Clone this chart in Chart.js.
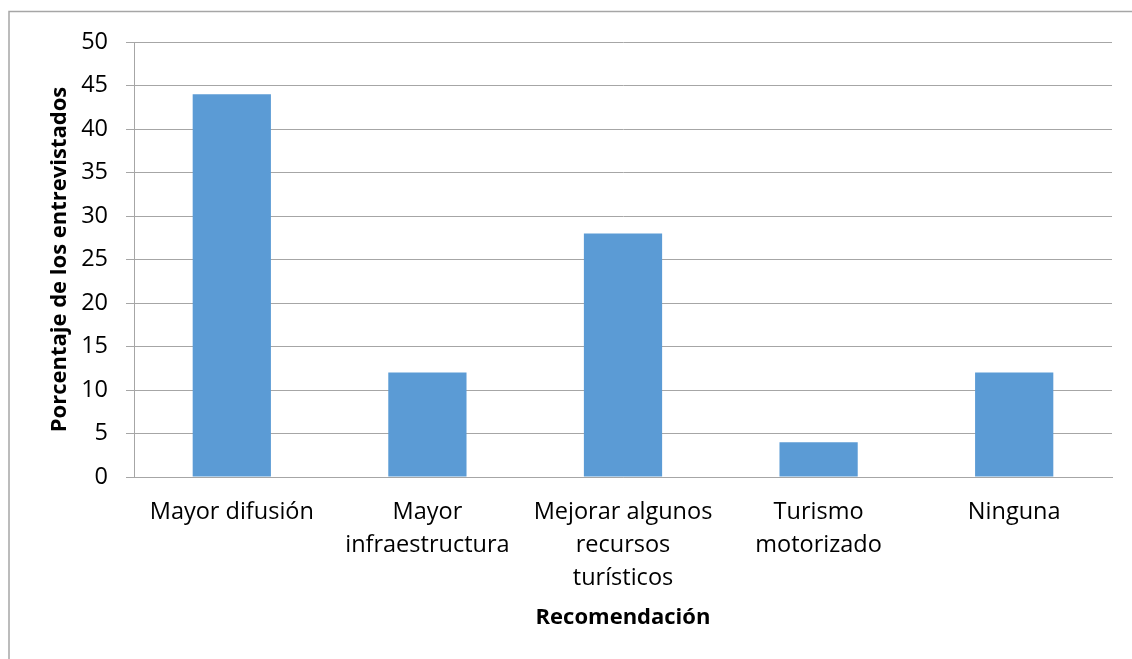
<!DOCTYPE html>
<html><head><meta charset="utf-8">
<script src="https://cdn.jsdelivr.net/npm/chart.js@4/dist/chart.umd.min.js"></script>
<style>html,body{margin:0;padding:0;background:#fff;}#wrap{width:1132px;height:659px;position:relative;}</style>
</head><body><div id="wrap"><canvas id="c" width="1132" height="659"></canvas></div>
<script>
const categories = [["Mayor difusión"], ["Mayor", "infraestructura"], ["Mejorar algunos", "recursos", "turísticos"], ["Turismo", "motorizado"], ["Ninguna"]];
const values = [44, 12, 28, 4, 12];
const yTitle = "Porcentaje de los entrevistados";
const xTitle = "Recomendación";
const FONT = "'Open Sans', sans-serif";

const borderPlugin = {
  id: 'outerBorder',
  beforeDraw(chart) {
    const ctx = chart.ctx;
    ctx.save();
    ctx.fillStyle = '#fff';
    ctx.fillRect(0, 0, chart.width, chart.height);
    ctx.strokeStyle = '#a6a6a6';
    ctx.lineWidth = 1.5;
    ctx.strokeRect(9, 11.5, 1200, 800);
    ctx.restore();
  }
};

new Chart(document.getElementById('c'), {
  type: 'bar',
  data: {
    labels: categories,
    datasets: [{ data: values, backgroundColor: '#5b9bd5', borderWidth: 0, barPercentage: 0.4, categoryPercentage: 1 }]
  },
  options: {
    responsive: false,
    animation: false,
    layout: { padding: { top: 42, right: 20, left: 0, bottom: 0 } },
    plugins: { legend: { display: false }, tooltip: { enabled: false } },
    scales: {
      x: {
        grid: { display: false, drawTicks: false },
        border: { display: true, color: '#a6a6a6', width: 1 },
        ticks: { color: '#000', padding: 19, maxRotation: 0, autoSkip: false, font: { family: FONT, size: 23.5, lineHeight: '33px' } },
        title: { display: true, text: xTitle, color: '#000', padding: { top: 0, bottom: 28 }, font: { family: FONT, size: 22, weight: 'bold', lineHeight: 1.2 } },
        afterFit(s) { s.height = 182; }
      },
      y: {
        min: 0, max: 50,
        grid: { color: '#a6a6a6', lineWidth: 1, drawTicks: true, tickLength: 8 },
        border: { display: true, color: '#a6a6a6', width: 1 },
        ticks: { stepSize: 5, color: '#000', padding: 18, font: { family: FONT, size: 23.5 } },
        title: { display: true, text: yTitle, color: '#000', padding: { top: 47, bottom: 0 }, font: { family: FONT, size: 22, weight: 'bold', lineHeight: 1.2 } },
        afterFit(s) { s.width = 134; }
      }
    }
  },
  plugins: [borderPlugin]
});
</script></body></html>
